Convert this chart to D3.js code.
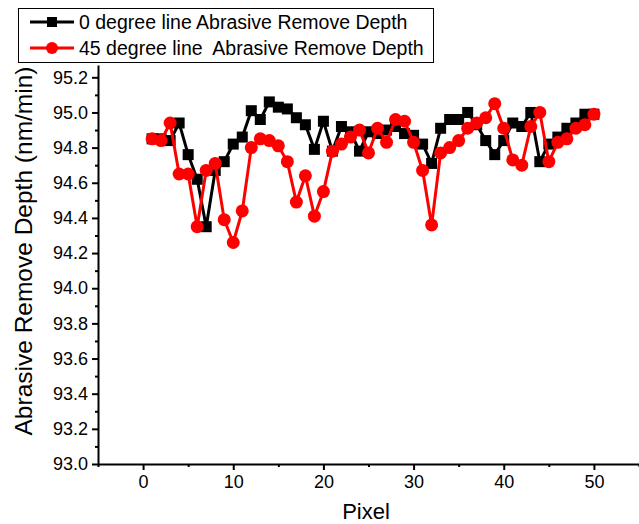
<!DOCTYPE html>
<html>
<head>
<meta charset="utf-8">
<script src="https://cdn.jsdelivr.net/npm/d3@7"></script>
<style>
  body { margin: 0; background: #fff; }
  svg { display: block; font-family: "Liberation Sans", Arial, sans-serif; }
</style>
</head>
<body>
<svg id="chart" width="639" height="524"></svg>
<script>
const pixels = d3.range(1, 51);

const depth0 = [
  94.85, 94.85, 94.84, 94.94, 94.76, 94.62, 94.35, 94.67, 94.72, 94.82,
  94.86, 95.01, 94.96, 95.06, 95.03, 95.02, 94.97, 94.93, 94.79, 94.95,
  94.78, 94.92, 94.89, 94.78, 94.89, 94.88, 94.90, 94.92, 94.88, 94.87,
  94.82, 94.71, 94.91, 94.96, 94.96, 95.00, 94.93, 94.84, 94.76, 94.84,
  94.94, 94.92, 95.00, 94.72, 94.82, 94.86, 94.91, 94.94, 94.99, 94.99
];

const depth45 = [
  94.85, 94.84, 94.94, 94.65, 94.65, 94.35, 94.67, 94.71, 94.39, 94.26,
  94.44, 94.80, 94.85, 94.84, 94.81, 94.72, 94.49, 94.64, 94.41, 94.55,
  94.78, 94.82, 94.86, 94.90, 94.77, 94.91, 94.83, 94.96, 94.95, 94.83,
  94.67, 94.36, 94.77, 94.80, 94.84, 94.91, 94.94, 94.97, 95.05, 94.91,
  94.73, 94.70, 94.92, 95.00, 94.72, 94.83, 94.85, 94.91, 94.93, 94.99
];

const xTicks = [0, 10, 20, 30, 40, 50];
const xMinor = [-5, 5, 15, 25, 35, 45, 55];
const yTicks = d3.range(0, 12).map(i => +(93 + i * 0.2).toFixed(1));
const yMinor = d3.range(0, 11).map(i => +(93.1 + i * 0.2).toFixed(1));

const series = [
  { name: "0 degree line Abrasive Remove Depth", values: depth0, color: "#000", shape: "square" },
  { name: "45 degree line  Abrasive Remove Depth", values: depth45, color: "#ff0000", shape: "circle" }
];

const svg = d3.select("#chart");

const x = d3.scaleLinear().domain([-5, 55]).range([98, 639]);
const y = d3.scaleLinear().domain([93.0, 95.27]).range([464, 65]);

// axes
const xAxis = svg.append("g")
    .attr("transform", "translate(0,464)")
    .call(d3.axisBottom(x).tickValues(xTicks).tickSize(6).tickSizeOuter(0).tickPadding(5))
    .call(g => g.select(".domain").attr("stroke-width", 2));
xAxis.selectAll(".tick line").attr("stroke-width", 2);
xAxis.selectAll("text").attr("font-size", 18).attr("fill", "#000")
    .attr("font-family", "'Liberation Sans', Arial, sans-serif");

svg.append("g")
    .attr("transform", "translate(0,464)")
    .call(d3.axisBottom(x).tickValues(xMinor).tickSize(3).tickFormat(""))
    .call(g => g.select(".domain").remove())
    .selectAll("line").attr("stroke-width", 2);

const yAxis = svg.append("g")
    .attr("transform", "translate(98,0)")
    .call(d3.axisLeft(y).tickValues(yTicks).tickFormat(d3.format(".1f")).tickSize(6).tickSizeOuter(0).tickPadding(4))
    .call(g => g.select(".domain").attr("stroke-width", 2));
yAxis.selectAll(".tick line").attr("stroke-width", 2);
yAxis.selectAll("text").attr("font-size", 18).attr("fill", "#000")
    .attr("font-family", "'Liberation Sans', Arial, sans-serif");

svg.append("g")
    .attr("transform", "translate(98,0)")
    .call(d3.axisLeft(y).tickValues(yMinor).tickSize(3).tickFormat(""))
    .call(g => g.select(".domain").remove())
    .selectAll("line").attr("stroke-width", 2);

// axis titles
svg.append("text")
    .attr("x", 366).attr("y", 519)
    .attr("text-anchor", "middle")
    .attr("font-size", 22)
    .text("Pixel");

svg.append("text")
    .attr("transform", "translate(32,251) rotate(-90)")
    .attr("text-anchor", "middle")
    .attr("font-size", 24.5)
    .text("Abrasive Remove Depth (nm/min)");

// lines + markers
const line = d3.line()
    .x((d, i) => x(pixels[i]))
    .y(d => y(d));

series.forEach(s => {
  svg.append("path")
      .datum(s.values)
      .attr("fill", "none")
      .attr("stroke", s.color)
      .attr("stroke-width", 3)
      .attr("d", line);

  const pts = svg.append("g").attr("fill", s.color);
  if (s.shape === "square") {
    pts.selectAll("rect")
      .data(s.values)
      .join("rect")
        .attr("x", (d, i) => x(pixels[i]) - 5.5)
        .attr("y", d => y(d) - 5.5)
        .attr("width", 11)
        .attr("height", 11);
  } else {
    pts.selectAll("circle")
      .data(s.values)
      .join("circle")
        .attr("cx", (d, i) => x(pixels[i]))
        .attr("cy", d => y(d))
        .attr("r", 6.5);
  }
});

// legend
const legend = svg.append("g");
legend.append("rect")
    .attr("x", 18.5).attr("y", 8.5)
    .attr("width", 415).attr("height", 54)
    .attr("fill", "#fff")
    .attr("stroke", "#000")
    .attr("stroke-width", 1);

series.forEach((s, i) => {
  const ly = 22 + i * 26;
  legend.append("line")
      .attr("x1", 30).attr("x2", 74)
      .attr("y1", ly).attr("y2", ly)
      .attr("stroke", s.color)
      .attr("stroke-width", 3);
  if (s.shape === "square") {
    legend.append("rect")
        .attr("x", 47).attr("y", ly - 5)
        .attr("width", 10).attr("height", 10)
        .attr("fill", s.color);
  } else {
    legend.append("circle")
        .attr("cx", 52).attr("cy", ly).attr("r", 6)
        .attr("fill", s.color);
  }
  legend.append("text")
      .attr("x", 79).attr("y", ly + 7)
      .attr("font-size", 19.5)
      .style("white-space", "pre")
      .text(s.name);
});
</script>
</body>
</html>
